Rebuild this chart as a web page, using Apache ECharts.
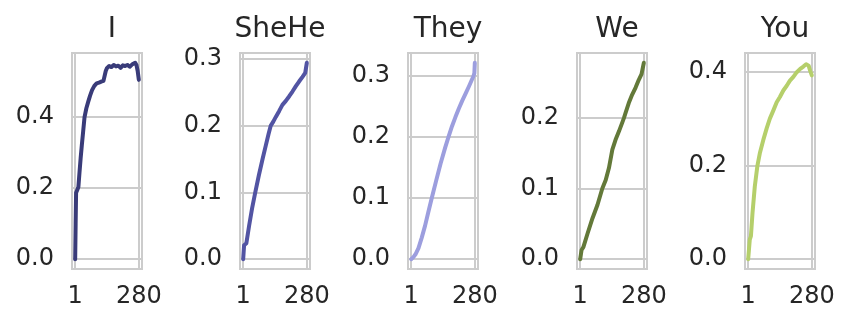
<!DOCTYPE html>
<html>
<head>
<meta charset="utf-8">
<script src="https://cdn.jsdelivr.net/npm/echarts@6/dist/echarts.min.js"></script>
<style>
  html, body { margin: 0; padding: 0; background: #fff; }
  #chart { width: 852px; height: 327px; }
</style>
</head>
<body>
<div id="chart"></div>
<script>
// panel names
const names = ['I', 'SheHe', 'They', 'We', 'You'];

// x positions (1..280) and values
const xI = [1, 3, 5, 10, 15, 20, 25, 30, 36, 42, 50, 58, 66, 75, 85, 95, 105, 115, 125, 133, 135, 140, 150, 160, 170, 180, 190, 200, 210, 220, 230, 240, 250, 258, 264, 270, 275, 280];
const yI = [0, 0.1, 0.187, 0.195, 0.203, 0.245, 0.285, 0.32, 0.36, 0.4, 0.425, 0.443, 0.46, 0.476, 0.488, 0.495, 0.497, 0.5, 0.502, 0.504, 0.53, 0.538, 0.544, 0.541, 0.547, 0.543, 0.545, 0.539, 0.546, 0.544, 0.547, 0.542, 0.548, 0.545, 0.553, 0.546, 0.53, 0.505];

const xSheHe = [1, 5, 15, 27, 40, 54, 70, 86, 100, 112, 122, 133, 144, 159, 173, 188, 203, 217, 232, 246, 261, 273, 280];
const ySheHe = [0, 0.021, 0.024, 0.05, 0.076, 0.1, 0.126, 0.15, 0.17, 0.187, 0.2, 0.206, 0.213, 0.222, 0.231, 0.237, 0.244, 0.251, 0.259, 0.266, 0.273, 0.279, 0.294];

const xThey = [1, 10, 20, 33, 47, 62, 76, 91, 110, 130, 150, 165, 180, 195, 210, 225, 240, 255, 268, 274, 278, 280];
const yThey = [0, 0.003, 0.008, 0.018, 0.035, 0.055, 0.077, 0.1, 0.128, 0.157, 0.183, 0.201, 0.218, 0.233, 0.247, 0.26, 0.272, 0.284, 0.295, 0.3, 0.305, 0.322];

const xWe = [1, 7, 15, 33, 55, 77, 98, 113, 127, 142, 156, 171, 185, 193, 200, 214, 229, 244, 258, 270, 280];
const yWe = [0, 0.013, 0.017, 0.036, 0.058, 0.077, 0.1, 0.112, 0.129, 0.155, 0.169, 0.181, 0.193, 0.2, 0.207, 0.221, 0.233, 0.243, 0.254, 0.262, 0.278];

const xYou = [1, 8, 13, 20, 30, 41, 52, 67, 82, 96, 111, 126, 140, 155, 170, 184, 199, 214, 229, 243, 255, 262, 266, 273, 280];
const yYou = [0, 0.042, 0.049, 0.099, 0.155, 0.198, 0.226, 0.254, 0.279, 0.3, 0.317, 0.335, 0.346, 0.36, 0.37, 0.381, 0.389, 0.399, 0.406, 0.411, 0.416, 0.419, 0.413, 0.402, 0.392];

// tick labels
const xTicks = [1, 280];
const yTicks = [
  [0, 0.2, 0.4],
  [0, 0.1, 0.2, 0.3],
  [0, 0.1, 0.2, 0.3],
  [0, 0.1, 0.2],
  [0, 0.2, 0.4]
];

const xs = [xI, xSheHe, xThey, xWe, xYou];
const ys = [yI, ySheHe, yThey, yWe, yYou];
const colors = ['#393b79', '#5254a3', '#9c9ede', '#637939', '#b5cf6b'];
const lefts = [72, 240, 408, 577, 745];
const boxW = 70, boxTop = 53, boxH = 216;
const font = 'DejaVu Sans';
const gridColor = '#cccccc';

function pad (lo, hi) {
  const p = (hi - lo) * 0.05;
  return [lo - p, hi + p];
}

const xRange = pad(1, 280);

let grids = [], xAxes = [], yAxes = [], series = [], titles = [];
names.forEach(function (name, i) {
  const yr = pad(Math.min.apply(null, ys[i]), Math.max.apply(null, ys[i]));
  grids.push({
    left: lefts[i], top: boxTop, width: boxW, height: boxH,
    show: true, borderColor: gridColor, borderWidth: 2, backgroundColor: '#fff'
  });
  titles.push({
    text: name, left: lefts[i] + boxW / 2, top: 11, textAlign: 'center',
    textStyle: { fontFamily: font, fontSize: 28, fontWeight: 'normal', color: '#262626' }
  });
  xAxes.push({
    type: 'value', gridIndex: i, min: xRange[0], max: xRange[1],
    axisLine: { show: false },
    axisTick: { show: false, customValues: xTicks },
    axisLabel: { customValues: xTicks, margin: 16, fontFamily: font, fontSize: 24, color: '#262626' },
    splitLine: { show: true, lineStyle: { color: gridColor, width: 2 } }
  });
  yAxes.push({
    type: 'value', gridIndex: i, min: yr[0], max: yr[1],
    axisLine: { show: false },
    axisTick: { show: false, customValues: yTicks[i] },
    axisLabel: {
      customValues: yTicks[i], margin: 18, fontFamily: font, fontSize: 24, color: '#262626',
      formatter: function (v) { return v.toFixed(1); }
    },
    splitLine: { show: true, lineStyle: { color: gridColor, width: 2 } }
  });
  series.push({
    name: name, type: 'line', xAxisIndex: i, yAxisIndex: i,
    data: xs[i].map(function (x, k) { return [x, ys[i][k]]; }),
    showSymbol: false, smooth: false,
    lineStyle: { color: colors[i], width: 4, cap: 'round', join: 'round' },
    z: 3
  });
});

const chart = echarts.init(document.getElementById('chart'), null, { renderer: 'canvas' });
chart.setOption({
  animation: false,
  backgroundColor: '#fff',
  title: titles,
  grid: grids,
  xAxis: xAxes,
  yAxis: yAxes,
  series: series
});
</script>
</body>
</html>
